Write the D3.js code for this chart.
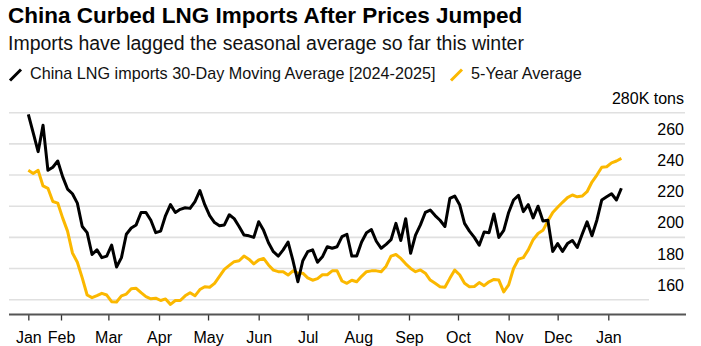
<!DOCTYPE html>
<html>
<head>
<meta charset="utf-8">
<script src="https://cdn.jsdelivr.net/npm/d3@7"></script>
<style>
  body { margin: 0; background: #fff; }
  svg { display: block; font-family: "Liberation Sans", Arial, Helvetica, sans-serif; }
</style>
</head>
<body>
<svg id="chart" width="701" height="346"></svg>
<script>
// thousand tons, one reading every 3 days starting 12 Jan 2024
const startDate = new Date(2024, 0, 12);
const stepDays = 3;

const chinaImports = [
  279, 267, 255, 272, 243, 245, 249, 239, 231, 228,
  222, 207, 203, 189, 192, 187, 188, 195, 181, 187,
  202, 206, 208, 216, 216, 211, 203, 204, 214, 221,
  216, 218, 219, 218.6, 223, 230, 221, 214, 209.5, 207.5,
  208, 214.5, 212, 207, 201.5, 201, 200, 210, 204.5, 196.5,
  190.8, 188, 192, 197, 185, 171.5, 185, 190.8, 192, 184,
  187.5, 194, 193, 194, 200.5, 202, 188, 188, 197, 203,
  205, 197.5, 193, 195.5, 198.5, 209, 198, 212, 189.8, 201.5,
  208, 216, 217.5, 214, 211, 207, 225, 226.5, 221, 209,
  204, 200, 195, 203.5, 203, 215, 200, 204.5, 216, 224,
  227, 216.5, 221, 212.5, 220, 210.5, 211, 191, 196, 191,
  196, 198, 193.5, 202, 210, 201, 211, 224, 226, 228,
  224, 231.5
];

const fiveYearAvg = [
  243, 241, 243, 233, 231.5, 223, 222, 212.5, 204, 190,
  184, 174, 163, 161.3, 162.6, 164.1, 163, 158.7, 158.5, 162.5,
  163.6, 167, 167.3, 164.5, 162, 160.6, 161, 159.5, 160.5, 157,
  159.5, 159.5, 162.5, 164.5, 162.5, 166.5, 168.3, 168, 170.5, 175,
  179.5, 182, 184.4, 185, 188, 186, 183, 185.5, 186.5, 182.3,
  179, 178, 178, 175.8, 178.5, 177, 177, 174, 172.5, 173.5,
  176, 176, 178.5, 178.5, 172, 170.5, 172.5, 171.5, 175, 178,
  178.5, 178.5, 178, 181.5, 188, 189, 186.5, 183, 180.1, 178,
  179.1, 177, 172.6, 170.5, 168.3, 168, 173.7, 179, 176, 170.5,
  168.3, 168.5, 171, 169, 171.5, 173, 172.6, 165, 169.5, 180,
  186, 187, 192, 198.5, 202.5, 204.5, 210.5, 216, 219.3, 222.5,
  225.5, 227.2, 226, 226.5, 229.3, 235.5, 240, 245, 245.3, 247.8,
  249, 250.7
];

const yTicks = [160, 180, 200, 220, 240, 260, 280];
const monthTicks = d3.timeMonth.range(new Date(2024, 1, 1), new Date(2025, 1, 1));

const svg = d3.select('#chart');
const plotLeft = 9, plotRight = 685, baseY = 314.5;

const x = d3.scaleTime()
  .domain([new Date(2024, 1, 1), new Date(2025, 0, 1)])
  .range([61, 608.3]);

const y = d3.scaleLinear()
  .domain([160, 280])
  .range([299.7, 112.7]);

const dates = chinaImports.map((_, i) => d3.timeDay.offset(startDate, i * stepDays));

// titles
svg.append('text')
  .attr('x', 8).attr('y', 23)
  .style('font-size', '22.5px').style('font-weight', 'bold').attr('fill', '#000')
  .text('China Curbed LNG Imports After Prices Jumped');

svg.append('text')
  .attr('x', 8).attr('y', 49.5)
  .style('font-size', '19.5px').attr('fill', '#111')
  .text('Imports have lagged the seasonal average so far this winter');

// legend
const legendItems = [
  { label: 'China LNG imports 30-Day Moving Average [2024-2025]', color: '#000', x: 9 },
  { label: '5-Year Average', color: '#fbb800', x: 450 }
];
legendItems.forEach(d => {
  svg.append('line')
    .attr('x1', d.x + 1).attr('y1', 80.5)
    .attr('x2', d.x + 12).attr('y2', 69.5)
    .attr('stroke', d.color).attr('stroke-width', 3);
  svg.append('text')
    .attr('x', d.x + 21).attr('y', 78.5)
    .style('font-size', '16.2px').attr('fill', '#111')
    .text(d.label);
});

// gridlines + y labels
const grid = svg.append('g');
yTicks.forEach(v => {
  grid.append('line')
    .attr('x1', plotLeft).attr('x2', v === 160 ? 649 : plotRight)
    .attr('y1', y(v)).attr('y2', y(v))
    .attr('stroke', '#e0e0e0').attr('stroke-width', 1.6);
  grid.append('text')
    .attr('x', 684).attr('y', y(v) - 9)
    .attr('text-anchor', 'end')
    .style('font-size', '16px').attr('fill', '#000')
    .text(v === 280 ? '280K tons' : v);
});

// x axis
const xAxis = d3.axisBottom(x)
  .tickValues([startDate, ...monthTicks])
  .tickSize(6)
  .tickPadding(11)
  .tickFormat(d3.timeFormat('%b'));

const xg = svg.append('g')
  .attr('transform', `translate(0,${baseY})`)
  .call(xAxis);
xg.select('.domain').remove();
xg.selectAll('.tick line').attr('stroke', '#333').attr('stroke-width', 1.3);
xg.selectAll('.tick text')
  .style('font-size', '16px')
  .style('font-family', '"Liberation Sans", Arial, sans-serif')
  .attr('fill', '#000');

svg.append('line')
  .attr('x1', plotLeft).attr('x2', plotRight + 1)
  .attr('y1', baseY).attr('y2', baseY)
  .attr('stroke', '#555').attr('stroke-width', 1.8);

// lines
const line = d3.line()
  .x((d, i) => x(dates[i]))
  .y(d => y(d));

svg.append('path')
  .datum(fiveYearAvg)
  .attr('d', line)
  .attr('fill', 'none')
  .attr('stroke', '#fbb800')
  .attr('stroke-width', 3)
  .attr('stroke-linejoin', 'round');

svg.append('path')
  .datum(chinaImports)
  .attr('d', line)
  .attr('fill', 'none')
  .attr('stroke', '#000')
  .attr('stroke-width', 3)
  .attr('stroke-linejoin', 'round');
</script>
</body>
</html>
